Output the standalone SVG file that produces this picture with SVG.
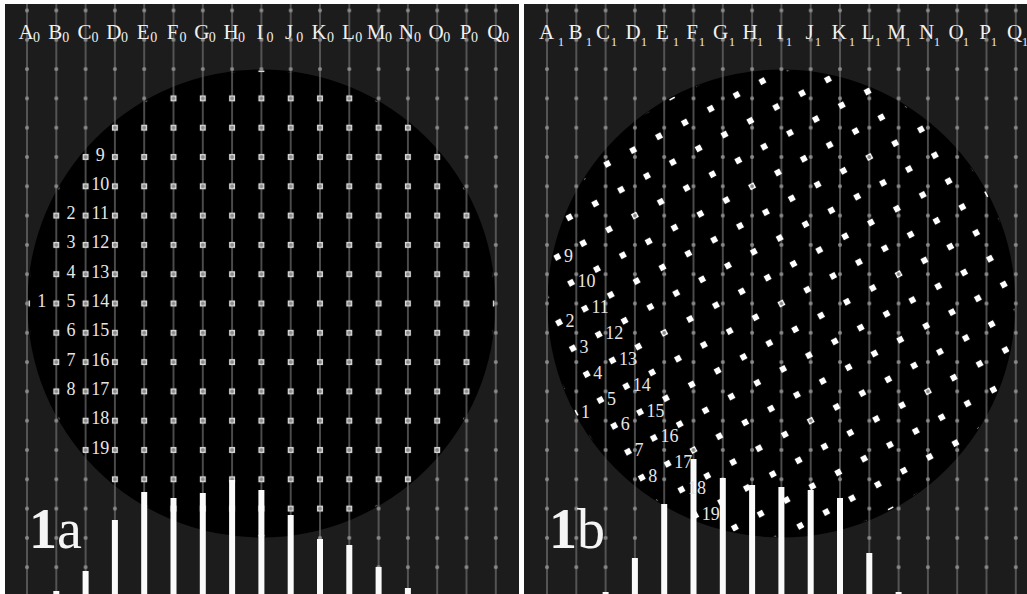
<svg xmlns="http://www.w3.org/2000/svg" width="1027" height="594" viewBox="0 0 1027 594">
<style>
.panel{fill:#1c1c1c}
.disc{fill:#000}
.bar{fill:#fafafa}
.hdr{font-size:21px;fill:#f0f0f0;text-anchor:middle}
.sub0{font-size:14px;fill:#f0f0f0}
.sub1{font-size:12px;fill:#f0f0f0}
.num{font-size:18px;fill:#e6e6e6}
.numa{text-anchor:middle}
.big{font-size:56px;fill:#f4f4f4}
</style>
<defs>
<pattern id="lnA" patternUnits="userSpaceOnUse" x="12.35" y="0" width="29.3" height="594"><rect x="14" y="0" width="1.3" height="594" fill="#707070"/></pattern>
<pattern id="lnB" patternUnits="userSpaceOnUse" x="532.35" y="0" width="29.3" height="594"><rect x="14" y="0" width="1.3" height="594" fill="#707070"/></pattern>
<pattern id="dotA" patternUnits="userSpaceOnUse" x="12.35" y="-4.15" width="29.3" height="29.3"><circle cx="14.65" cy="14.65" r="2" fill="#8a8a8a"/></pattern>
<pattern id="dotB" patternUnits="userSpaceOnUse" x="532.35" y="-4.15" width="29.3" height="29.3"><circle cx="14.65" cy="14.65" r="2" fill="#8a8a8a"/></pattern>
<pattern id="sqA" patternUnits="userSpaceOnUse" x="12.35" y="-4.15" width="29.3" height="29.3"><rect x="11.65" y="11.65" width="6" height="6" fill="#dadada"/></pattern>
<pattern id="sqB" patternUnits="userSpaceOnUse" x="532.35" y="-4.15" width="29.3" height="29.3" patternTransform="rotate(-28.07 781.4 303.5)"><rect x="11.65" y="11.65" width="6" height="6" fill="#ffffff"/></pattern>
</defs>
<rect x="0" y="0" width="1027" height="594" fill="#ffffff"/>

<g id="panel-a" font-family="Liberation Serif, serif">
<rect class="panel" x="5" y="4" width="514" height="590"/>
<circle class="disc" cx="261.4" cy="303.5" r="234"/>
<rect x="5" y="4" width="514" height="590" fill="url(#lnA)"/>
<circle cx="261.4" cy="303.5" r="233" fill="url(#sqA)"/>
<rect x="5" y="4" width="514" height="590" fill="url(#dotA)"/>
<g id="bars-a">
<rect class="bar" x="53.3" y="591" width="6" height="3"/>
<rect class="bar" x="82.6" y="571" width="6" height="23"/>
<rect class="bar" x="111.9" y="520" width="6" height="74"/>
<rect class="bar" x="141.2" y="492" width="6" height="102"/>
<rect class="bar" x="170.5" y="498" width="6" height="96"/>
<rect class="bar" x="199.8" y="493" width="6" height="101"/>
<rect class="bar" x="229.1" y="480" width="6" height="114"/>
<rect class="bar" x="258.4" y="490" width="6" height="104"/>
<rect class="bar" x="287.7" y="515" width="6" height="79"/>
<rect class="bar" x="317" y="539" width="6" height="55"/>
<rect class="bar" x="346.3" y="545" width="6" height="49"/>
<rect class="bar" x="375.6" y="567" width="6" height="27"/>
<rect class="bar" x="404.9" y="588" width="6" height="6"/>
</g>
<g id="labels-a" class="num numa">
<text x="41.65" y="307">1</text>
<text x="70.95" y="219.1">2</text>
<text x="70.95" y="248.4">3</text>
<text x="70.95" y="277.7">4</text>
<text x="70.95" y="307">5</text>
<text x="70.95" y="336.3">6</text>
<text x="70.95" y="365.6">7</text>
<text x="70.95" y="394.9">8</text>
<text x="100.25" y="160.5">9</text>
<text x="100.25" y="189.8">10</text>
<text x="100.25" y="219.1">11</text>
<text x="100.25" y="248.4">12</text>
<text x="100.25" y="277.7">13</text>
<text x="100.25" y="307">14</text>
<text x="100.25" y="336.3">15</text>
<text x="100.25" y="365.6">16</text>
<text x="100.25" y="394.9">17</text>
<text x="100.25" y="424.2">18</text>
<text x="100.25" y="453.5">19</text>
</g>
<g id="header-a">
<text class="hdr" x="26" y="39">A</text><text class="sub0" x="33" y="42">0</text>
<text class="hdr" x="55.3" y="39">B</text><text class="sub0" x="62.3" y="42">0</text>
<text class="hdr" x="84.6" y="39">C</text><text class="sub0" x="91.6" y="42">0</text>
<text class="hdr" x="113.9" y="39">D</text><text class="sub0" x="120.9" y="42">0</text>
<text class="hdr" x="143.2" y="39">E</text><text class="sub0" x="150.2" y="42">0</text>
<text class="hdr" x="172.5" y="39">F</text><text class="sub0" x="179.5" y="42">0</text>
<text class="hdr" x="201.8" y="39">G</text><text class="sub0" x="208.8" y="42">0</text>
<text class="hdr" x="231.1" y="39">H</text><text class="sub0" x="238.1" y="42">0</text>
<text class="hdr" x="259.9" y="39">I</text><text class="sub0" x="266.4" y="42">0</text>
<text class="hdr" x="289.2" y="39">J</text><text class="sub0" x="296.2" y="42">0</text>
<text class="hdr" x="319" y="39">K</text><text class="sub0" x="327" y="42">0</text>
<text class="hdr" x="348.3" y="39">L</text><text class="sub0" x="355.3" y="42">0</text>
<text class="hdr" x="376" y="39">M</text><text class="sub0" x="385" y="42">0</text>
<text class="hdr" x="406.4" y="39">N</text><text class="sub0" x="413.9" y="42">0</text>
<text class="hdr" x="436.2" y="39">O</text><text class="sub0" x="443.2" y="42">0</text>
<text class="hdr" x="465.5" y="39">P</text><text class="sub0" x="471" y="42">0</text>
<text class="hdr" x="494.8" y="39">Q</text><text class="sub0" x="502" y="42">0</text>
</g>
<text id="title-a" class="big" x="29" y="548"><tspan font-weight="bold">1</tspan>a</text>
</g>

<g id="panel-b" font-family="Liberation Serif, serif">
<rect class="panel" x="524" y="4" width="503" height="590"/>
<circle class="disc" cx="781.4" cy="303.5" r="234"/>
<rect x="524" y="4" width="503" height="590" fill="url(#lnB)"/>
<circle cx="781.4" cy="303.5" r="233" fill="url(#sqB)"/>
<rect x="524" y="4" width="503" height="590" fill="url(#dotB)"/>
<g id="bars-b">
<rect class="bar" x="602.6" y="592" width="6" height="2"/>
<rect class="bar" x="631.9" y="558" width="6" height="36"/>
<rect class="bar" x="661.2" y="504" width="6" height="90"/>
<rect class="bar" x="690.5" y="459" width="6" height="135"/>
<rect class="bar" x="719.8" y="478" width="6" height="116"/>
<rect class="bar" x="749.1" y="485" width="6" height="109"/>
<rect class="bar" x="778.4" y="487" width="6" height="107"/>
<rect class="bar" x="807.7" y="490" width="6" height="104"/>
<rect class="bar" x="837" y="498" width="6" height="96"/>
<rect class="bar" x="866.3" y="553" width="6" height="41"/>
<rect class="bar" x="895.6" y="592" width="6" height="2"/>
</g>
<g id="labels-b" class="num">
<text x="581.1" y="418.3">1</text>
<text x="565.6" y="327">2</text>
<text x="579.4" y="352.8">3</text>
<text x="593.2" y="378.7">4</text>
<text x="607" y="404.5">5</text>
<text x="620.7" y="430.4">6</text>
<text x="634.5" y="456.2">7</text>
<text x="648.3" y="482.1">8</text>
<text x="563.9" y="261.5">9</text>
<text x="577.6" y="287.3">10</text>
<text x="591.4" y="313.2">11</text>
<text x="605.2" y="339">12</text>
<text x="619" y="364.9">13</text>
<text x="632.8" y="390.7">14</text>
<text x="646.6" y="416.6">15</text>
<text x="660.4" y="442.4">16</text>
<text x="674.2" y="468.3">17</text>
<text x="688" y="494.1">18</text>
<text x="701.8" y="520">19</text>
</g>
<g id="header-b">
<text class="hdr" x="546.5" y="39">A</text><text class="sub1" x="558" y="46">1</text>
<text class="hdr" x="575.5" y="39">B</text><text class="sub1" x="586" y="46">1</text>
<text class="hdr" x="603" y="39">C</text><text class="sub1" x="611" y="46">1</text>
<text class="hdr" x="633" y="39">D</text><text class="sub1" x="641" y="46">1</text>
<text class="hdr" x="662.5" y="39">E</text><text class="sub1" x="673" y="46">1</text>
<text class="hdr" x="692" y="39">F</text><text class="sub1" x="699" y="46">1</text>
<text class="hdr" x="720.5" y="39">G</text><text class="sub1" x="729" y="46">1</text>
<text class="hdr" x="750" y="39">H</text><text class="sub1" x="757" y="46">1</text>
<text class="hdr" x="780" y="39">I</text><text class="sub1" x="786" y="46">1</text>
<text class="hdr" x="809.5" y="39">J</text><text class="sub1" x="815" y="46">1</text>
<text class="hdr" x="839" y="39">K</text><text class="sub1" x="849" y="46">1</text>
<text class="hdr" x="868" y="39">L</text><text class="sub1" x="875" y="46">1</text>
<text class="hdr" x="896.5" y="39">M</text><text class="sub1" x="905" y="46">1</text>
<text class="hdr" x="926.5" y="39">N</text><text class="sub1" x="934" y="46">1</text>
<text class="hdr" x="956" y="39">O</text><text class="sub1" x="963" y="46">1</text>
<text class="hdr" x="985" y="39">P</text><text class="sub1" x="991" y="46">1</text>
<text class="hdr" x="1014.5" y="39">Q</text><text class="sub1" x="1022" y="46">1</text>
</g>
<text id="title-b" class="big" x="549" y="548"><tspan font-weight="bold">1</tspan>b</text>
</g>
</svg>
